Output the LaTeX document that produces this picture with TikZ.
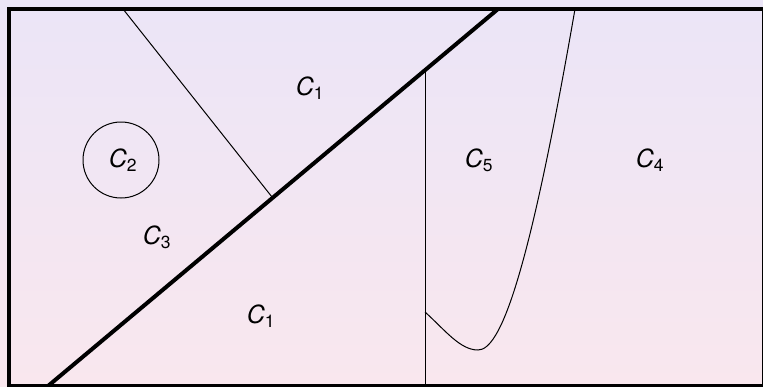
\documentclass[tikz,border=0pt]{standalone}
\usepackage{fontspec}
\setmainfont{TeX Gyre Heros}
\begin{document}
\begin{tikzpicture}[x=1pt,y=-1pt,
  thinline/.style={line width=1pt,black},
  thickline/.style={line width=4pt,black},
  lbl/.style={inner sep=0pt,font=\fontsize{25}{28}\selectfont}]
\definecolor{topc}{RGB}{235,229,247}
\definecolor{botc}{RGB}{249,231,238}
\useasboundingbox (0,0) rectangle (763,386);
\shade[top color=topc,bottom color=botc] (0,0) rectangle (763,386);
\clip (0,0) rectangle (763,386);
% coordinates
\coordinate (d0) at (48,386);
\coordinate (d1) at (498,9);
\coordinate (t0) at (123,9);
\coordinate (t1) at (272,197);
\coordinate (v0) at (425,70);
\coordinate (v1) at (425,386);
\coordinate (c0) at (425,312);
\coordinate (cm) at (478,350);
\coordinate (c1) at (575,9);
% thin lines
\draw[thinline] (t0) -- (t1);
\draw[thinline] (v0) -- (v1);
\draw[thinline] (c0) .. controls (445,330) and (460,350) .. (cm)
  .. controls (500,350) and (528,280) .. (c1);
\node[draw,circle,thinline,minimum size=76pt,inner sep=0pt] (circ) at (121,160) {};
% thick
\draw[thickline,line cap=butt] (d0) -- (d1);
\draw[thickline] (9,9) rectangle (764,385.5);
% labels
\node[lbl] (l1a) at (310,88) {\itshape C\textsubscript{\upshape 1}};
\node[lbl] (l2) at (123,160) {\itshape C\textsubscript{\upshape 2}};
\node[lbl] (l3) at (157,237) {\itshape C\textsubscript{\upshape 3}};
\node[lbl] (l1b) at (261,316) {\itshape C\textsubscript{\upshape 1}};
\node[lbl] (l5) at (479,160) {\itshape C\textsubscript{\upshape 5}};
\node[lbl] (l4) at (650,160) {\itshape C\textsubscript{\upshape 4}};
\end{tikzpicture}
\end{document}
